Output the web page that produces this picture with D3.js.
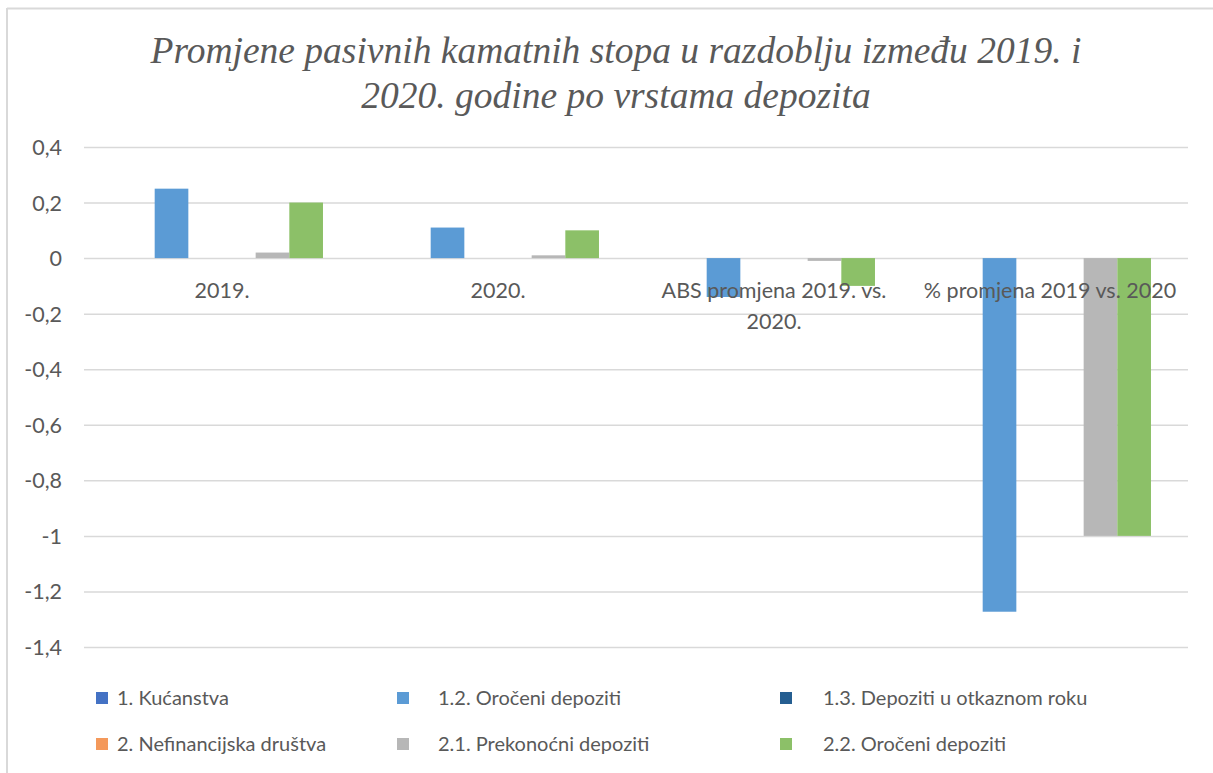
<!DOCTYPE html>
<html>
<head>
  <meta charset="utf-8">
  <title>Pasivne kamatne stope</title>
  <script src="https://d3js.org/d3.v7.min.js"></script>
  <style type="text/css">
    body { margin: 0; background: #fff; }
    .axisText { font-family: Lato, 'Open Sans', sans-serif; font-size: 21.5px; fill: #595959; }
    .legendText { font-family: Lato, 'Open Sans', sans-serif; font-size: 20px; fill: #595959; }
    .title { font-family: 'Liberation Serif', 'Times New Roman', serif; font-style: italic; font-size: 37.5px; fill: #595959; }
  </style>
</head>
<body>
  <div id="viz"></div>
</body>
<script type="text/javascript">

  const categories = ["2019.", "2020.", "ABS promjena 2019. vs. 2020.", "% promjena 2019 vs. 2020"];
  const seriesNames = ["1. Kućanstva", "1.2. Oročeni depoziti", "1.3. Depoziti u otkaznom roku",
    "2. Nefinancijska društva", "2.1. Prekonoćni depoziti", "2.2. Oročeni depoziti"];
  const seriesColors = ["#4472c4", "#5b9bd5", "#255e91", "#f4995b", "#b7b7b7", "#8cc068"];

  // values per series, one per category
  const kucanstva = [0, 0, 0, 0];
  const oroceni1 = [0.25, 0.11, -0.14, -1.273];
  const otkazni = [0, 0, 0, 0];
  const nefin = [0, 0, 0, 0];
  const prekonocni = [0.02, 0.01, -0.01, -1];
  const oroceni2 = [0.2, 0.1, -0.1, -1];
  const seriesValues = [kucanstva, oroceni1, otkazni, nefin, prekonocni, oroceni2];

  const yTicks = [0.4, 0.2, 0, -0.2, -0.4, -0.6, -0.8, -1, -1.2, -1.4];

  const FULLW = 1213, FULLH = 773;
  const PLOT = { left: 84, right: 1188, top: 147, bottom: 647 };

  const svg = d3.select("#viz").append("svg")
    .attr("width", FULLW)
    .attr("height", FULLH);

  svg.append("rect").attr("width", FULLW).attr("height", FULLH).attr("fill", "#fff");

  // chart outline (only top and left visible)
  svg.append("line").attr("x1", 7).attr("x2", FULLW).attr("y1", 8.5).attr("y2", 8.5)
    .attr("stroke", "#d9d9d9").attr("stroke-width", 2);
  svg.append("line").attr("x1", 7).attr("x2", 7).attr("y1", 8).attr("y2", FULLH)
    .attr("stroke", "#d9d9d9").attr("stroke-width", 2);

  // title
  const title = svg.append("text").attr("class", "title").attr("text-anchor", "middle");
  title.append("tspan").attr("x", 616).attr("y", 63).text("Promjene pasivnih kamatnih stopa u razdoblju između 2019. i");
  title.append("tspan").attr("x", 616).attr("y", 108).text("2020. godine po vrstama depozita");

  const y = d3.scaleLinear().domain([-1.4, 0.4]).range([PLOT.bottom, PLOT.top]);
  const x0 = d3.scaleBand().domain(categories).range([PLOT.left, PLOT.right]);
  const x1 = d3.scaleBand().domain(d3.range(seriesNames.length))
    .range([0, x0.bandwidth()]).paddingOuter(1.1);

  // gridlines
  const yAxis = d3.axisLeft(y).tickValues(yTicks)
    .tickSize(-(PLOT.right - PLOT.left))
    .tickFormat(d => String(d3.format(".1~f")(d)).replace(".", ",").replace("−", "-"));
  const ag = svg.append("g").attr("transform", "translate(" + PLOT.left + ",0)").call(yAxis);
  ag.select(".domain").remove();
  ag.selectAll(".tick line").attr("stroke", "#d9d9d9").attr("stroke-width", 1.5);
  ag.selectAll(".tick text").attr("class", "axisText").attr("x", -22).attr("dy", "0.35em")
    .attr("font-size", null).attr("font-family", null);

  // bars
  const bars = svg.append("g");
  seriesValues.forEach(function (vals, si) {
    bars.selectAll(".s" + si)
      .data(vals.map((v, ci) => ({ v: v, c: categories[ci] })))
      .enter().append("rect")
      .attr("x", d => x0(d.c) + x1(si))
      .attr("width", x1.bandwidth())
      .attr("y", d => y(Math.max(0, d.v)))
      .attr("height", d => Math.abs(y(d.v) - y(0)))
      .attr("fill", seriesColors[si]);
  });

  // category labels (drawn above bars, at zero line)
  const catLines = [["2019."], ["2020."], ["ABS promjena 2019. vs.", "2020."], ["% promjena 2019 vs. 2020"]];
  categories.forEach(function (c, i) {
    const t = svg.append("text").attr("class", "axisText").attr("text-anchor", "middle");
    catLines[i].forEach(function (ln, j) {
      t.append("tspan").attr("x", x0(c) + x0.bandwidth() / 2)
        .attr("y", y(0) + 40 + j * 31).text(ln);
    });
  });

  // legend
  const legX = [96, 397, 780];
  const legTextX = [117, 438, 823];
  const legY = [698, 744];
  seriesNames.forEach(function (name, i) {
    const col = i % 3, row = Math.floor(i / 3);
    svg.append("rect").attr("x", legX[col]).attr("y", legY[row] - 6)
      .attr("width", 12).attr("height", 12).attr("fill", seriesColors[i]);
    svg.append("text").attr("class", "legendText").attr("x", legTextX[col]).attr("y", legY[row])
      .attr("dy", "0.35em").text(name);
  });

</script>
</html>
